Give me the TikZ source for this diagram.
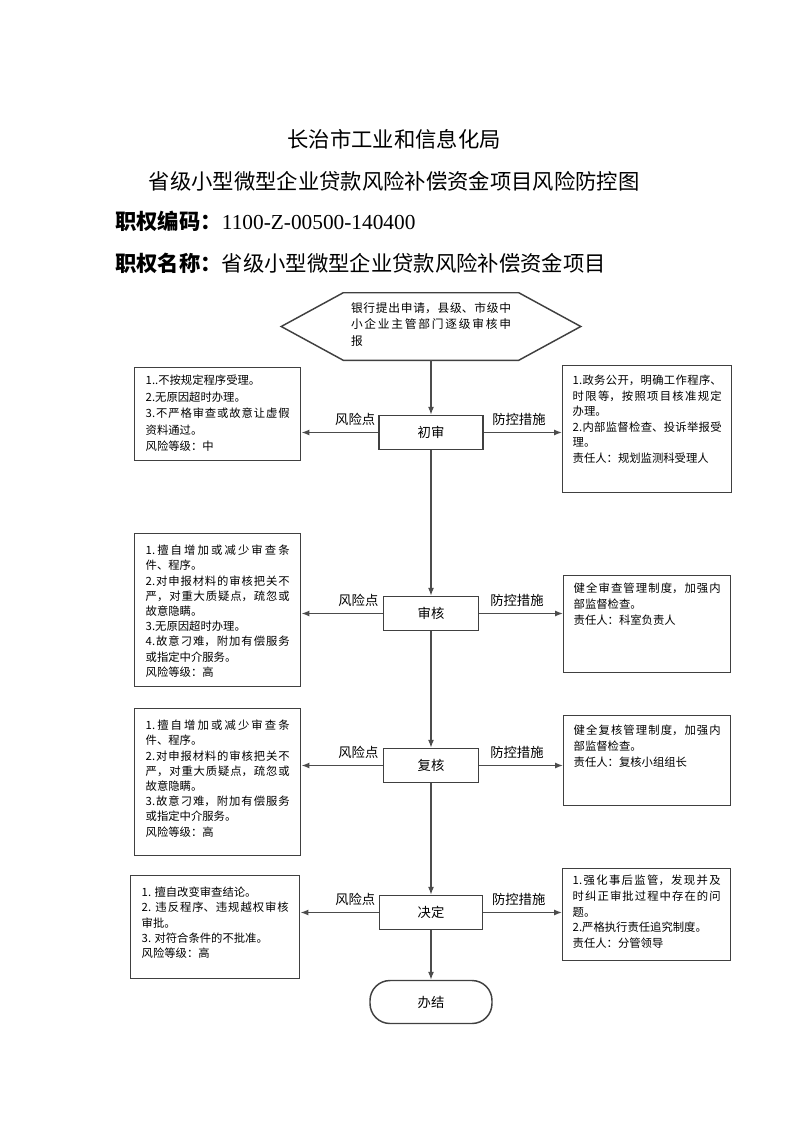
\documentclass[tikz,border=0pt]{standalone}
\usepackage{fontspec}
\setmainfont{Noto Sans CJK SC}
\newfontfamily\timesfont{Liberation Serif}
\usepackage{tikz}
\usetikzlibrary{positioning, arrows.meta, calc}
\XeTeXlinebreaklocale "zh"
\XeTeXlinebreakskip=0pt plus 3pt
\newdimen\pxu \pxu=0.75pt
\newcommand\boxtxt[4]{\parbox[t][#2][t]{#1}{\rule{0pt}{#3}#4}}

\begin{document}
\begin{tikzpicture}[x=0.75pt, y=-0.75pt,
  boxline/.style={draw=black!75, line width=1.1pt},
  riskbox/.style={boxline, anchor=north west, inner xsep=11\pxu, inner ysep=0pt,
                  font=\fontsize{8.5}{11.4}\selectfont},
  ctrlbox/.style={riskbox, inner xsep=10\pxu},
  stepbox/.style={boxline, minimum height=34\pxu, inner sep=0pt, font=\fontsize{10}{12}\selectfont},
  flow/.style={draw=black!70, line width=0.9pt, -{Latex[length=6pt, width=4.5pt]}},
  arrowlbl/.style={above, inner sep=0pt, yshift=4.5pt, font=\fontsize{10}{12}\selectfont},
  ]
  \useasboundingbox (0,0) rectangle (794,1123);

  \node[font=\fontsize{16}{19}\selectfont] (org) at (394,139) {长治市工业和信息化局};
  \node[font=\fontsize{16}{19}\selectfont] (title) at (394,181)
    {省级小型微型企业贷款风险补偿资金项目风险防控图};
  \node[anchor=west, inner sep=0pt, font=\fontsize{16}{19}\selectfont] (code) at (115,221)
    {\textbf{职权编码：}{\timesfont 1100-Z-00500-140400}};
  \node[anchor=west, inner sep=0pt, font=\fontsize{16}{19}\selectfont] (name) at (115,263)
    {\textbf{职权名称：}省级小型微型企业贷款风险补偿资金项目};

  \node[inner xsep=7.5\pxu, inner ysep=0pt, font=\fontsize{8.8}{12.2}\selectfont] (start) at (431,326.5)
    {\boxtxt{160\pxu}{67\pxu}{19.5\pxu}{银行提出申请，县级、市级中\linebreak 小企业主管部门逐级审核申\linebreak 报}};
  \draw[boxline] (start.north west) -- (start.north east) -- ([xshift=46.5pt]start.east)
    -- (start.south east) -- (start.south west) -- ([xshift=-46.5pt]start.west) -- cycle;

  \node[stepbox, minimum width=104\pxu] (chushen) at (431,432.5) {初审};
  \node[stepbox, minimum width=95\pxu] (shenhe) at (431,613.5) {审核};
  \node[stepbox, minimum width=95\pxu] (fuhe) at (431,765.5) {复核};
  \node[stepbox, minimum width=103\pxu] (jueding) at (431,912.5) {决定};
  \node[boxline, rounded corners=15pt, minimum width=122\pxu, minimum height=43\pxu,
        font=\fontsize{10}{12}\selectfont] (banjie) at (431,1002) {办结};

  \node[riskbox, font=\fontsize{8.5}{12.4}\selectfont] (risk1) at (134,367)
    {\boxtxt{144\pxu}{93\pxu}{17\pxu}{1..不按规定程序受理。\\2.无原因超时办理。\\3.不严格审查或故意让虚假\linebreak 资料通过。\\风险等级：中}};
  \node[ctrlbox, font=\fontsize{8.5}{11.6}\selectfont] (ctrl1) at (562,365)
    {\boxtxt{149\pxu}{127\pxu}{19\pxu}{1.政务公开，明确工作程序、\linebreak 时限等，按照项目核准规定\linebreak 办理。\\2.内部监督检查、投诉举报受\linebreak 理。\\责任人：规划监测科受理人}};

  \node[riskbox] (risk2) at (134,533)
    {\boxtxt{144\pxu}{153\pxu}{21\pxu}{1.擅自增加或减少审查条\linebreak 件、程序。\\2.对申报材料的审核把关不\linebreak 严，对重大质疑点，疏忽或\linebreak 故意隐瞒。\\3.无原因超时办理。\\4.故意刁难，附加有偿服务\linebreak 或指定中介服务。\\风险等级：高}};
  \node[ctrlbox, font=\fontsize{8.5}{12}\selectfont] (ctrl2) at (563,575)
    {\boxtxt{147\pxu}{97\pxu}{17\pxu}{健全审查管理制度，加强内\linebreak 部监督检查。\\责任人：科室负责人}};

  \node[riskbox] (risk3) at (134,708)
    {\boxtxt{144\pxu}{147\pxu}{21\pxu}{1.擅自增加或减少审查条\linebreak 件、程序。\\2.对申报材料的审核把关不\linebreak 严，对重大质疑点，疏忽或\linebreak 故意隐瞒。\\3.故意刁难，附加有偿服务\linebreak 或指定中介服务。\\风险等级：高}};
  \node[ctrlbox, font=\fontsize{8.5}{11.8}\selectfont] (ctrl3) at (563,715)
    {\boxtxt{147\pxu}{90\pxu}{19\pxu}{健全复核管理制度，加强内\linebreak 部监督检查。\\责任人：复核小组组长}};

  \node[riskbox] (risk4) at (130,875)
    {\boxtxt{147\pxu}{103\pxu}{21\pxu}{1. 擅自改变审查结论。\\2. 违反程序、违规越权审核\linebreak 审批。\\3. 对符合条件的不批准。\\风险等级：高}};
  \node[ctrlbox, font=\fontsize{8.5}{11.8}\selectfont] (ctrl4) at (562,868)
    {\boxtxt{148\pxu}{92\pxu}{16\pxu}{1.强化事后监管，发现并及\linebreak 时纠正审批过程中存在的问\linebreak 题。\\2.严格执行责任追究制度。\\责任人：分管领导}};

  \draw[flow] (start.south) -- (chushen.north);
  \draw[flow] (chushen.south) -- (shenhe.north);
  \draw[flow] (shenhe.south) -- (fuhe.north);
  \draw[flow] (fuhe.south) -- (jueding.north);
  \draw[flow] (jueding.south) -- (banjie.north);

  \foreach \s/\r/\c in {chushen/risk1/ctrl1, shenhe/risk2/ctrl2, fuhe/risk3/ctrl3, jueding/risk4/ctrl4} {
    \draw[flow] (\s.west) -- (\s.west -| \r.east) node[arrowlbl, pos=0.3] {风险点};
    \draw[flow] (\s.east) -- (\s.east -| \c.west) node[arrowlbl, pos=0.45] {防控措施};
  }
\end{tikzpicture}
\end{document}
